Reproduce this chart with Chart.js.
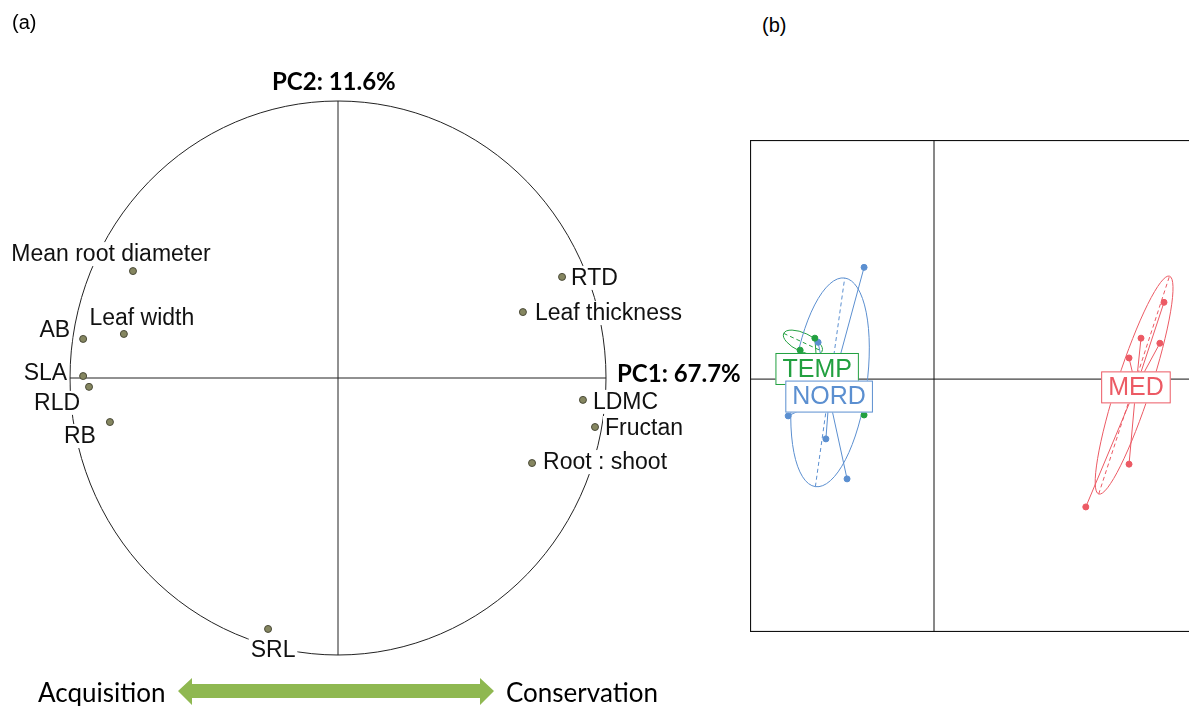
<!DOCTYPE html>
<html>
<head>
<meta charset="utf-8">
<script src="https://cdn.jsdelivr.net/npm/chart.js@4.4.0/dist/chart.umd.min.js"></script>
<style>
  html, body { margin: 0; padding: 0; background: #fff; overflow: hidden; }
  body { width: 1189px; height: 706px; position: relative; }
  canvas { position: absolute; }
  .txt { position: absolute; white-space: nowrap; color: #000; }
  .panel { font: 20px 'Liberation Sans', Arial, sans-serif; line-height: 24px; }
  .pc { font: bold 24px Lato, 'Open Sans', sans-serif; line-height: 28px; }
  .gradient { font: 26px Lato, 'Open Sans', sans-serif; line-height: 30px; }
</style>
</head>
<body>
<canvas id="circleChart" width="745" height="706" style="left:0;top:0"></canvas>
<canvas id="scoreChart" width="460" height="492" style="left:750px;top:140px"></canvas>

<div class="txt panel" style="left:12px;top:10px">(a)</div>
<div class="txt panel" style="left:762px;top:13px">(b)</div>
<div class="txt pc" style="left:272px;top:67px">PC2: 11.6%</div>
<div class="txt pc" style="left:617px;top:359px">PC1: 67.7%</div>
<div class="txt gradient" style="left:38px;top:677px">Acquisition</div>
<div class="txt gradient" style="left:506px;top:677px">Conservation</div>
<svg style="position:absolute;left:0;top:0" width="745" height="706">
  <polygon fill="#8fb851" points="178,691 192,678 192,684 480,684 480,678 494,691 480,705 480,698 192,698 192,705"/>
</svg>

<script>
// (a) correlation circle: trait loadings on PC1 / PC2
let traits = ['Mean root diameter', 'Leaf width', 'AB', 'SLA', 'RLD', 'RB', 'SRL',
              'RTD', 'Leaf thickness', 'LDMC', 'Fructan', 'Root : shoot'];
let pc1 = [-0.765, -0.799, -0.951, -0.951, -0.929, -0.851, -0.261,
            0.836,  0.690,  0.914,  0.959,  0.724];
let pc2 = [ 0.386,  0.159,  0.141,  0.007, -0.032, -0.159, -0.906,
            0.365,  0.238, -0.079, -0.177, -0.307];

// (b) population scores on PC1 / PC2
let groups = ['TEMP', 'NORD', 'MED'];
let tempX = [-2.59, -2.91, -1.52];
let tempY = [ 0.89,  0.63, -0.78];
let nordX = [-1.52, -2.52, -3.17, -2.35, -1.89];
let nordY = [ 2.43,  0.80, -0.80, -1.30, -2.17];
let medX  = [ 5.00,  4.50,  4.91,  4.24,  4.24,  3.30];
let medY  = [ 1.67,  0.89,  0.78,  0.46, -1.85, -2.78];
let centroidX = [-2.54, -2.28, 4.39];
let centroidY = [ 0.22, -0.38, -0.18];
// ellipse: centre, semi axes, angle of major axis (deg)
let ellCx = [-2.85, -2.26, 4.35];
let ellCy = [ 0.80, -0.07, -0.13];
let ellA  = [ 0.46,  2.29, 2.49];
let ellB  = [ 0.20,  0.80, 0.37];
let ellAngle = [-25, 82, 72];

// label placement next to each trait point
let labelPos = [
  ['center', -22, -17], ['center', 18, -16], ['right', -13, -9], ['right', -16, -3],
  ['right', -9, 16], ['right', -14, 14], ['center', 5, 21],
  ['left', 9, 1], ['left', 12, 1], ['left', 10, 2], ['left', 10, 1], ['left', 11, -1]
];
let groupColors = ['#22a040', '#5b8fd0', '#ec5a64'];

let circlePlugin = {
  id: 'circlePlugin',
  beforeDatasetsDraw(chart) {
    let ctx = chart.ctx, x = chart.scales.x, y = chart.scales.y;
    let cx = x.getPixelForValue(0), cy = y.getPixelForValue(0);
    ctx.save();
    ctx.strokeStyle = '#222';
    ctx.lineWidth = 1;
    ctx.beginPath();
    ctx.moveTo(x.getPixelForValue(-1), cy);
    ctx.lineTo(x.getPixelForValue(1), cy);
    ctx.moveTo(cx, y.getPixelForValue(1));
    ctx.lineTo(cx, y.getPixelForValue(-1));
    ctx.stroke();
    ctx.beginPath();
    ctx.ellipse(cx, cy, x.getPixelForValue(1) - cx, cy - y.getPixelForValue(1), 0, 0, Math.PI * 2);
    ctx.stroke();

    ctx.font = '23px "Liberation Sans", Arial, sans-serif';
    ctx.textBaseline = 'middle';
    traits.forEach((t, i) => {
      let [align, dx, dy] = labelPos[i];
      let px = x.getPixelForValue(pc1[i]) + dx;
      let py = y.getPixelForValue(pc2[i]) + dy;
      let w = ctx.measureText(t).width;
      let left = align == 'left' ? px : align == 'right' ? px - w : px - w / 2;
      ctx.fillStyle = '#fff';
      ctx.fillRect(left - 2, py - 12, w + 4, 24);
      ctx.fillStyle = '#111';
      ctx.textAlign = 'left';
      ctx.fillText(t, left, py + 1);
    });
    ctx.restore();
  }
};

new Chart(document.getElementById('circleChart'), {
  type: 'scatter',
  data: {
    datasets: [{
      data: pc1.map((v, i) => ({ x: v, y: pc2[i] })),
      backgroundColor: '#858660',
      borderColor: '#4a4a38',
      borderWidth: 1,
      pointRadius: 3.5
    }]
  },
  options: {
    responsive: false,
    animation: false,
    layout: { autoPadding: false, padding: { left: 70, right: 139, top: 101, bottom: 51 } },
    scales: {
      x: { min: -1, max: 1, display: false },
      y: { min: -1, max: 1, display: false }
    },
    plugins: { legend: { display: false }, tooltip: { enabled: false } }
  },
  plugins: [circlePlugin]
});

let groupX = [tempX, nordX, medX];
let groupY = [tempY, nordY, medY];

let scorePlugin = {
  id: 'scorePlugin',
  beforeDatasetsDraw(chart) {
    let ctx = chart.ctx, x = chart.scales.x, y = chart.scales.y, a = chart.chartArea;
    let ux = x.getPixelForValue(1) - x.getPixelForValue(0);
    ctx.save();
    ctx.strokeStyle = '#111';
    ctx.lineWidth = 1.2;
    ctx.strokeRect(a.left + 0.5, a.top + 0.5, a.right - a.left - 1, a.bottom - a.top - 1);
    ctx.lineWidth = 1;
    ctx.beginPath();
    ctx.moveTo(x.getPixelForValue(0), a.top);
    ctx.lineTo(x.getPixelForValue(0), a.bottom);
    ctx.moveTo(a.left, y.getPixelForValue(0));
    ctx.lineTo(a.right, y.getPixelForValue(0));
    ctx.stroke();

    groups.forEach((g, k) => {
      ctx.strokeStyle = groupColors[k];
      ctx.lineWidth = 1;
      let ex = x.getPixelForValue(ellCx[k]), ey = y.getPixelForValue(ellCy[k]);
      let rot = -ellAngle[k] * Math.PI / 180;
      ctx.setLineDash([]);
      ctx.beginPath();
      ctx.ellipse(ex, ey, ellA[k] * ux, ellB[k] * ux, rot, 0, Math.PI * 2);
      ctx.stroke();
      ctx.setLineDash([4, 3]);
      ctx.beginPath();
      ctx.moveTo(ex - Math.cos(rot) * ellA[k] * ux, ey - Math.sin(rot) * ellA[k] * ux);
      ctx.lineTo(ex + Math.cos(rot) * ellA[k] * ux, ey + Math.sin(rot) * ellA[k] * ux);
      ctx.stroke();
      ctx.setLineDash([]);
      ctx.beginPath();
      let gx = x.getPixelForValue(centroidX[k]), gy = y.getPixelForValue(centroidY[k]);
      groupX[k].forEach((v, i) => {
        ctx.moveTo(x.getPixelForValue(v), y.getPixelForValue(groupY[k][i]));
        ctx.lineTo(gx, gy);
      });
      ctx.stroke();
    });
    ctx.restore();
  },
  afterDatasetsDraw(chart) {
    let ctx = chart.ctx, x = chart.scales.x, y = chart.scales.y;
    ctx.save();
    ctx.font = '25px "Liberation Sans", Arial, sans-serif';
    ctx.textBaseline = 'middle';
    ctx.textAlign = 'center';
    groups.forEach((g, k) => {
      let gx = x.getPixelForValue(centroidX[k]), gy = y.getPixelForValue(centroidY[k]);
      let w = ctx.measureText(g).width + 14;
      ctx.fillStyle = '#fff';
      ctx.fillRect(gx - w / 2, gy - 16, w, 32);
      ctx.strokeStyle = groupColors[k];
      ctx.lineWidth = 1;
      ctx.strokeRect(gx - w / 2 + 0.5, gy - 15.5, w - 1, 31);
      ctx.fillStyle = groupColors[k];
      ctx.fillText(g, gx, gy + 1);
    });
    ctx.restore();
  }
};

new Chart(document.getElementById('scoreChart'), {
  type: 'scatter',
  data: {
    datasets: groups.map((g, k) => ({
      label: g,
      data: groupX[k].map((v, i) => ({ x: v, y: groupY[k][i] })),
      backgroundColor: groupColors[k],
      borderColor: groupColors[k],
      pointRadius: 3
    }))
  },
  options: {
    responsive: false,
    animation: false,
    layout: { autoPadding: false, padding: 0 },
    scales: {
      x: { min: -4, max: 6, display: false },
      y: { min: -5.5, max: 5.2, display: false }
    },
    plugins: { legend: { display: false }, tooltip: { enabled: false } }
  },
  plugins: [scorePlugin]
});
</script>
</body>
</html>
